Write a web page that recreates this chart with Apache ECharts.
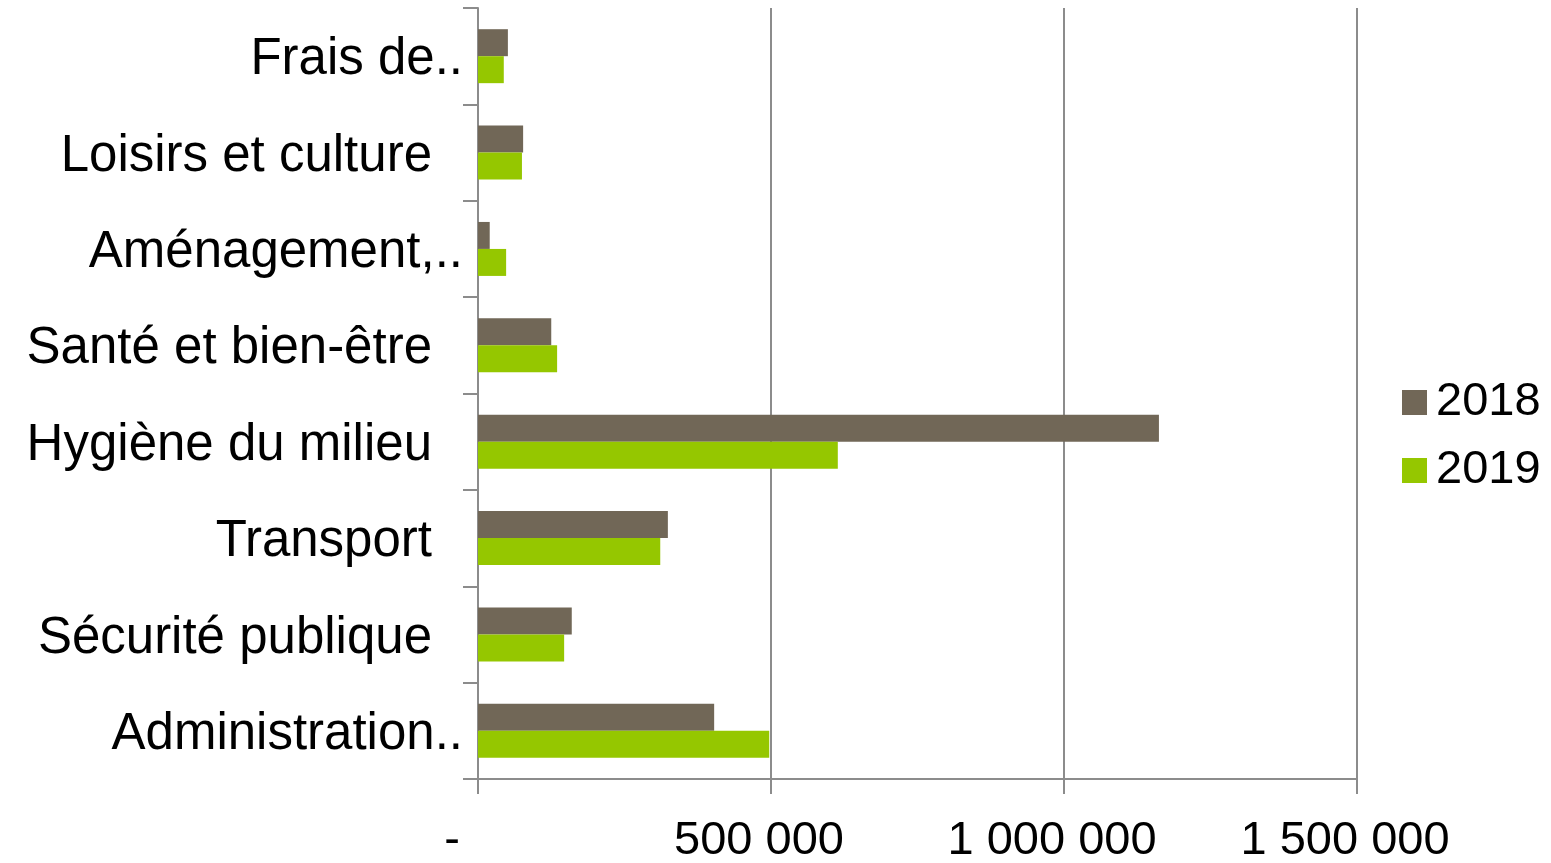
<!DOCTYPE html>
<html>
<head>
<meta charset="utf-8">
<script src="https://cdn.jsdelivr.net/npm/echarts@6/dist/echarts.min.js"></script>
<style>
  html, body { margin: 0; padding: 0; background: #fff; }
  #chart { width: 1551px; height: 863px; }
</style>
</head>
<body>
<div id="chart"></div>
<script>
// catégories de bas en haut
const categories = ['Administration..', 'Sécurité publique', 'Transport', 'Hygiène du milieu',
  'Santé et bien-être', 'Aménagement,..', 'Loisirs et culture', 'Frais de..'];
const values2018 = [403000, 160000, 324000, 1162000, 125000, 20000, 77000, 51000];
const values2019 = [497000, 147000, 311000, 614000, 135000, 48000, 75000, 44000];
const xTicks = { 0: '-', 500000: '500 000', 1000000: '1 000 000', 1500000: '1 500 000' };

const FONT = '"Liberation Sans", Arial, sans-serif';
const GRAY = '#8c8c8c';

const chart = echarts.init(document.getElementById('chart'));

chart.setOption({
  animation: false,
  textStyle: { fontFamily: FONT },
  grid: { left: 478, right: 194, top: 8, bottom: 84, containLabel: false, outerBoundsMode: 'none' },
  legend: {
    orient: 'vertical',
    left: 1397,
    top: 374,
    itemWidth: 25,
    itemHeight: 25,
    itemGap: 21,
    icon: 'rect',
    data: ['2018', '2019'],
    textStyle: { fontSize: 47, color: '#000', padding: [0, 0, 0, 4] }
  },
  xAxis: {
    type: 'value',
    min: 0,
    max: 1500000,
    interval: 500000,
    axisLine: { show: true, lineStyle: { color: GRAY, width: 2 } },
    axisTick: { show: true, length: 15, lineStyle: { color: GRAY, width: 2 } },
    splitLine: { show: true, lineStyle: { color: GRAY, width: 2 } },
    axisLabel: {
      margin: 39,
      formatter: v => v === 0 ? '{z|' + xTicks[v] + '}' : '{n|' + xTicks[v] + '}',
      rich: {
        z: { fontSize: 47, color: '#000', padding: [0, 52, 0, 0] },
        n: { fontSize: 47, color: '#000', padding: [0, 24, 0, 0] }
      }
    }
  },
  yAxis: {
    type: 'category',
    data: categories,
    axisLine: { show: true, lineStyle: { color: GRAY, width: 2 } },
    axisTick: { show: true, length: 15, lineStyle: { color: GRAY, width: 2 } },
    splitLine: { show: false },
    axisLabel: {
      margin: 15,
      formatter: v => v.endsWith('..') ? '{t|' + v + '}' : '{t|' + v + '}{g|}',
      rich: {
        t: { fontSize: 51, color: '#000', padding: [8, 0, 0, 0] },
        g: { width: 31 }
      }
    }
  },
  series: [
    {
      name: '2018',
      type: 'bar',
      data: values2018,
      barGap: '0%',
      barCategoryGap: '44%',
      itemStyle: { color: '#716757' }
    },
    {
      name: '2019',
      type: 'bar',
      data: values2019,
      barGap: '0%',
      barCategoryGap: '44%',
      itemStyle: { color: '#95c700' }
    }
  ]
});
</script>
</body>
</html>
